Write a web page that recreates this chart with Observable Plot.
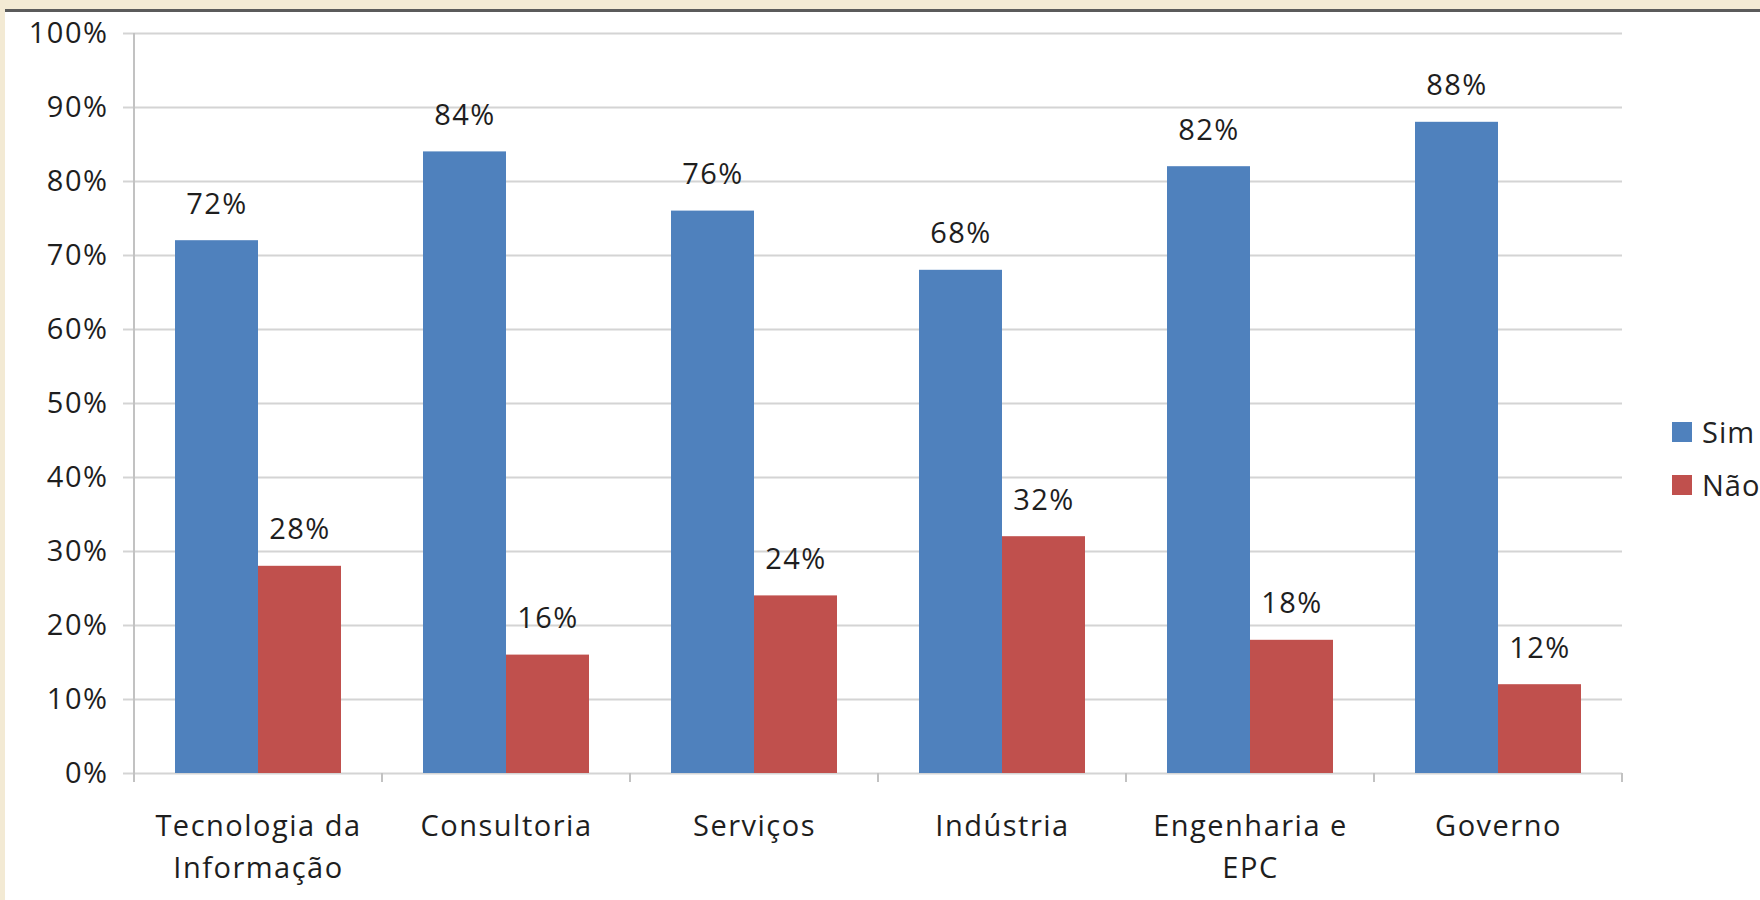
<!DOCTYPE html>
<html>
<head>
<meta charset="utf-8">
<script src="https://cdn.jsdelivr.net/npm/d3@7"></script>
<script src="https://cdn.jsdelivr.net/npm/@observablehq/plot@0.6"></script>
<style>
  html, body { margin: 0; padding: 0; width: 1760px; height: 900px; overflow: hidden; background: #f3ead4; }
  #panel { position: absolute; left: 5px; top: 9px; width: 1755px; height: 891px; background: #fff;
           border-top: 3px solid #5b5b5b; box-sizing: border-box; }
  #chart { position: absolute; left: 0; top: 0; }
  #chart svg text { letter-spacing: 1.5px; }
  #legend { position: absolute; left: 1672px; top: 422px; font-family: 'Open Sans', sans-serif; font-size: 29px; color: #222; letter-spacing: 1px; }
  .lg { position: absolute; left: 0; display: flex; align-items: center; height: 20px; line-height: 20px; white-space: nowrap; }
  .sw { display: inline-block; width: 20px; height: 20px; margin-right: 10px; }
</style>
</head>
<body>
<div id="panel"><div id="chart"></div></div>
<div id="legend"></div>
<script>
const categories = ["Tecnologia da Informação", "Consultoria", "Serviços", "Indústria", "Engenharia e EPC", "Governo"];
const categoryLabels = ["Tecnologia da\nInformação", "Consultoria", "Serviços", "Indústria", "Engenharia e\nEPC", "Governo"];
const series = ["Sim", "Não"];
const simValues = [72, 84, 76, 68, 82, 88];
const naoValues = [28, 16, 24, 32, 18, 12];
const yTicks = [0, 10, 20, 30, 40, 50, 60, 70, 80, 90, 100];
const yTickLabels = ["0%", "10%", "20%", "30%", "40%", "50%", "60%", "70%", "80%", "90%", "100%"];
const colors = ["#4f81bd", "#c0504d"];

const gridColor = "#d4d4d4";
const axisColor = "#c2c2c2";
const textColor = "#1e1e1e";

const data = [];
categories.forEach((c, i) => {
  data.push({category: c, series: series[0], value: simValues[i]});
  data.push({category: c, series: series[1], value: naoValues[i]});
});

const edgeTicks = Plot.text([null], {
  facet: "super",
  frameAnchor: "middle",
  text: () => "x",
  render: (index, scales, values, dims) => {
    const {fx, y} = scales;
    const y0 = y(0), yTop = y(100);
    let edges = null;
    if (fx && typeof fx.bandwidth === "function") {
      edges = categories.map(c => fx(c));
      edges.push(fx(categories[categories.length - 1]) + fx.bandwidth());
      if (!edges.every(Number.isFinite)) edges = null;
    }
    if (!edges) {
      const s = (dims.width - dims.marginLeft - dims.marginRight) / categories.length;
      edges = d3.range(categories.length + 1).map(i => dims.marginLeft + i * s);
    }
    const g = d3.create("svg:g").attr("stroke", axisColor).attr("stroke-width", 2);
    g.append("line").attr("x1", edges[0]).attr("x2", edges[0]).attr("y1", yTop).attr("y2", y0 + 9);
    edges.slice(1).forEach(x => {
      g.append("line").attr("x1", x).attr("x2", x).attr("y1", y0).attr("y2", y0 + 9);
    });
    return g.node();
  }
});

const plot = Plot.plot({
  width: 1755,
  height: 888,
  marginLeft: 128,
  marginRight: 137,
  marginTop: 21,
  marginBottom: 127,
  style: {fontFamily: "'Open Sans', sans-serif", fontSize: "29px", color: textColor, background: "transparent", overflow: "visible"},
  fx: {domain: categories, padding: 0, axis: null, label: null},
  x: {domain: series, paddingInner: 0, paddingOuter: 0.478, axis: null},
  y: {domain: [0, 100], axis: null},
  color: {domain: series, range: colors},
  marks: [
    Plot.gridY(yTicks, {stroke: gridColor, strokeOpacity: 1, strokeWidth: 2}),
    Plot.axisY(yTicks, {
      tickFormat: d => yTickLabels[yTicks.indexOf(d)],
      tickSize: 11, tickPadding: 15, stroke: gridColor, strokeOpacity: 1, strokeWidth: 2,
      fill: textColor, fontSize: 29, label: null
    }),
    Plot.barY(data, {fx: "category", x: "series", y: "value", fill: "series"}),
    Plot.text(data, {
      fx: "category", x: "series", y: "value", text: d => d.value + "%",
      lineAnchor: "bottom", dy: -27, fontSize: 29, fill: textColor
    }),
    Plot.axisFx({
      anchor: "bottom",
      tickFormat: d => categoryLabels[categories.indexOf(d)],
      tickSize: 0, tickPadding: 33, fontSize: 29, lineHeight: 1.45, label: null, fill: textColor
    }),
    edgeTicks
  ]
});
document.getElementById("chart").appendChild(plot);

const legend = document.getElementById("legend");
series.forEach((s, i) => {
  const row = document.createElement("div");
  row.className = "lg";
  row.style.top = (i * 53) + "px";
  const sw = document.createElement("span");
  sw.className = "sw";
  sw.style.background = colors[i];
  const t = document.createElement("span");
  t.textContent = s;
  row.appendChild(sw);
  row.appendChild(t);
  legend.appendChild(row);
});
</script>
</body>
</html>
